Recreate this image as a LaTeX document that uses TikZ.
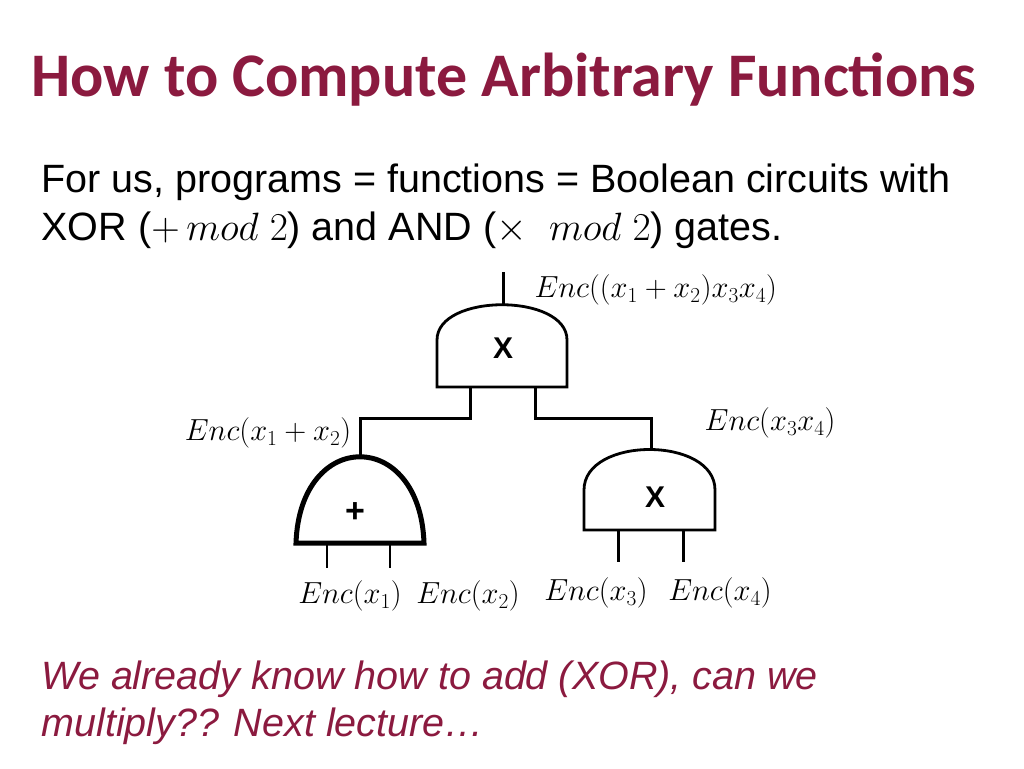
\RequirePackage{fix-cm}
\documentclass[tikz,border=0pt]{standalone}
\usepackage{fontspec}
\usepackage{amsmath}
\setmainfont{Liberation Sans}
\newfontfamily\titlefont{Carlito}
\usetikzlibrary{positioning,calc}
\definecolor{maroon}{HTML}{8B1A3F}
\begin{document}
\begin{tikzpicture}[x=1pt,y=-1pt,
  gate/.style={line width=2.8pt},
  wire/.style={line width=3pt},
  lbl/.style={font=\fontsize{30.5}{34}\selectfont},
  sym/.style={font=\fontsize{30}{32}\selectfont\bfseries}]
\useasboundingbox (0,0) rectangle (1024,768);
\node[text=maroon, font=\titlefont\fontsize{62}{70}\selectfont\bfseries] (title) at (504,80) {How to Compute Arbitrary Functions};
\node[anchor=west, align=left, font=\fontsize{39.5}{48}\selectfont] (intro) at (38,206) {For us, programs = functions = Boolean circuits with\\XOR ($+\,mod\ 2$) and AND ($\times\ \ mod\ 2$) gates.};
\node[anchor=west, align=left, text=maroon, font=\fontsize{39.5}{47}\selectfont\itshape] (outro) at (38,703) {We already know how to add (XOR), can we\\multiply?? Next lecture\dots};

% top gate
\draw[gate] (437,387) -- (437,340) .. controls (437,293) and (567,293) .. (567,340) -- (567,387) -- cycle;
\node[sym] (top) at (503,348) {X};
\coordinate (out) at (503,272);
\draw[wire] (503,304) -- (out);
\node[lbl, anchor=west] (lout) at (531,290) {$Enc((x_1+x_2)x_3x_4)$};

% plus gate
\draw[line width=5pt] (296,543) .. controls (300,428) and (420,428) .. (424,543) -- cycle;
\node[sym, font=\fontsize{34}{36}\selectfont\bfseries] (plus) at (355,513) {+};
\node[lbl] (lplus) at (268,433) {$Enc(x_1+x_2)$};

% right gate
\draw[gate] (584,530) -- (584,490) .. controls (584,436) and (715,436) .. (715,490) -- (715,530) -- cycle;
\node[sym] (mul) at (655,497) {X};
\node[lbl] (lmul) at (770,423) {$Enc(x_3x_4)$};

% wires between gates
\draw[wire] (470,388) -- (470,418) -- (360,418) -- (360,456);
\draw[wire] (535,388) -- (535,418) -- (651,418) -- (651,448);

% inputs
\draw[line width=2pt] (327,545) -- (327,568) (390,545) -- (390,568);
\draw[wire] (618,531) -- (618,562) (683,531) -- (683,562);
\node[lbl] (x1) at (350,596) {$Enc(x_1)$};
\node[lbl] (x2) at (468,596) {$Enc(x_2)$};
\node[lbl] (x3) at (596,593) {$Enc(x_3)$};
\node[lbl] (x4) at (720,593) {$Enc(x_4)$};
\end{tikzpicture}
\end{document}
